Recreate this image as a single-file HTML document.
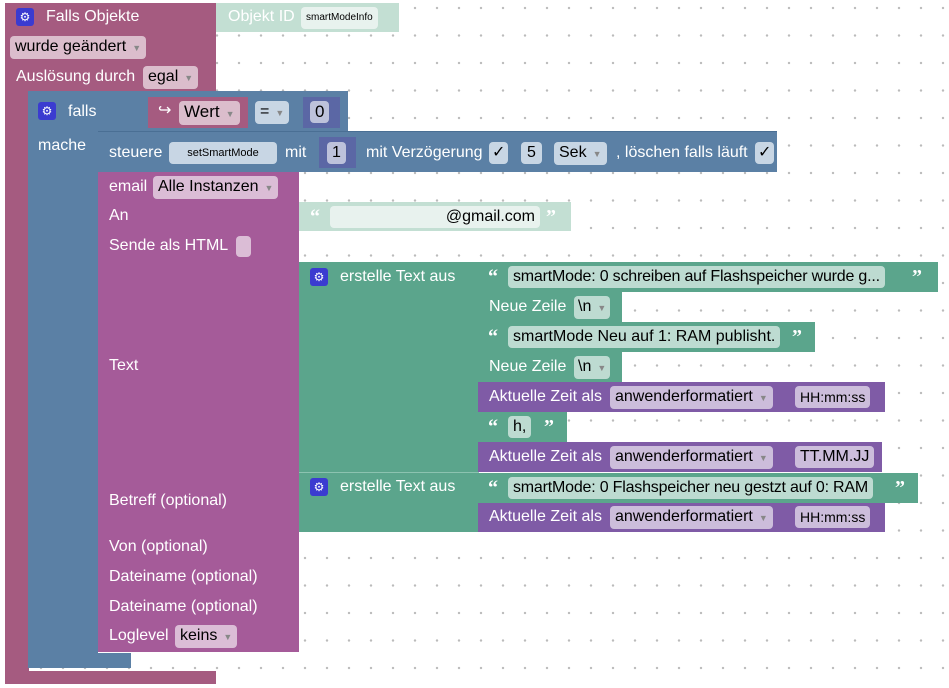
<!DOCTYPE html>
<html><head><meta charset="utf-8"><style>
body{margin:0;width:949px;height:688px;overflow:hidden;position:relative;font-family:"Liberation Sans",sans-serif;font-size:16px;
background-color:#fff;background-image:radial-gradient(circle at 19px 8px,#bbb 1px,transparent 1.4px);background-size:22px 27.5px;}
div{position:absolute;box-sizing:border-box}
.t{color:#fff;white-space:nowrap;line-height:22px}
.f{background:rgba(255,255,255,.6);border-radius:4px;color:#000;padding:0 5px;line-height:22px;white-space:nowrap}
.m{background:#a55b80}.b{background:#5b80a5}.e{background:#a55b99}.g{background:#5ba58c}.lg{background:#c3dfd3}.p{background:#7f5ba6}.n{background:#5b67a5}
.gear{width:18px;height:18px;background:#3b3bd0;border-radius:3px;color:#fff;font-size:12px;text-align:center;line-height:18px}
.ar{color:#888;font-size:9px;margin-left:6px}
.q{color:#fff;font-weight:bold;font-size:20px;line-height:22px;font-family:"Liberation Serif",serif}
</style></head><body>
<!-- outer mauve -->
<div class="m" style="left:5px;top:3px;width:211px;height:88px"></div>
<div class="m" style="left:5px;top:88px;width:24px;height:596px"></div>
<div class="m" style="left:5px;top:671px;width:211px;height:13px"></div>
<div class="gear" style="left:16px;top:8px">⚙</div>
<div class="t" style="left:46px;top:6px">Falls Objekte</div>
<div class="f" style="left:10px;top:36px">wurde geändert<span class="ar">▼</span></div>
<div class="t" style="left:16px;top:66px">Auslösung durch</div>
<div class="f" style="left:143px;top:66px">egal<span class="ar">▼</span></div>
<div class="lg" style="left:216px;top:3px;width:183px;height:29px"></div>
<div class="t" style="left:228px;top:6px">Objekt ID</div>
<div class="f" style="left:301px;top:7px;font-size:10px;background:#e8f2ee">smartModeInfo</div>
<!-- blue falls -->
<div class="b" style="left:28px;top:91px;width:320px;height:40px"></div>
<div class="b" style="left:28px;top:130px;width:70px;height:538px"></div>
<div class="b" style="left:28px;top:653px;width:103px;height:15px"></div>
<div class="gear" style="left:38px;top:102px">⚙</div>
<div class="t" style="left:68px;top:101px">falls</div>
<div class="t" style="left:38px;top:135px">mache</div>
<div class="m" style="left:148px;top:97px;width:100px;height:31px"></div>
<div class="t" style="left:158px;top:100px">↪</div>
<div class="f" style="left:179px;top:101px;font-size:17px">Wert<span class="ar">▼</span></div>
<div class="f" style="left:255px;top:101px;background:#c8d6e4">=<span class="ar">▼</span></div>
<div class="n" style="left:303px;top:97px;width:37px;height:31px"></div>
<div class="f" style="left:310px;top:101px;font-size:17px;padding:0 5px">0</div>
<!-- steuere -->
<div class="b" style="left:98px;top:131px;width:679px;height:41px;border-top:1px solid #4a6f94"></div>
<div class="t" style="left:109px;top:142px">steuere</div>
<div class="f" style="left:169px;top:142px;font-size:11px;background:#c8d6e4;width:108px;text-align:center">setSmartMode</div>
<div class="t" style="left:285px;top:142px">mit</div>
<div class="n" style="left:319px;top:137px;width:37px;height:31px"></div>
<div class="f" style="left:327px;top:142px;padding:0 5px">1</div>
<div class="t" style="left:366px;top:142px">mit Verzögerung</div>
<div class="f" style="left:489px;top:142px;padding:0 3px;background:#c8d6e4">✓</div>
<div class="f" style="left:521px;top:142px;background:#c8d6e4;padding:0 6px">5</div>
<div class="f" style="left:554px;top:142px;background:#c8d6e4">Sek<span class="ar">▼</span></div>
<div class="t" style="left:616px;top:142px">, löschen falls läuft</div>
<div class="f" style="left:755px;top:142px;padding:0 3px;background:#c8d6e4">✓</div>
<!-- email -->
<div class="e" style="left:98px;top:172px;width:201px;height:480px"></div>
<div class="t" style="left:109px;top:176px">email</div>
<div class="f" style="left:153px;top:176px">Alle Instanzen<span class="ar">▼</span></div>
<div class="t" style="left:109px;top:205px">An</div>
<div class="t" style="left:109px;top:235px">Sende als HTML</div>
<div class="f" style="left:236px;top:236px;width:15px;height:21px;padding:0"></div>
<div class="t" style="left:109px;top:355px">Text</div>
<div class="t" style="left:109px;top:490px">Betreff (optional)</div>
<div class="t" style="left:109px;top:536px">Von (optional)</div>
<div class="t" style="left:109px;top:566px">Dateiname (optional)</div>
<div class="t" style="left:109px;top:596px">Dateiname (optional)</div>
<div class="t" style="left:109px;top:625px">Loglevel</div>
<div class="f" style="left:175px;top:625px">keins<span class="ar">▼</span></div>
<!-- An -->
<div class="lg" style="left:299px;top:202px;width:272px;height:29px"></div>
<div class="q" style="left:310px;top:206px">“</div>
<div class="f" style="left:330px;top:206px;width:210px;text-align:right;background:#e8f2ee">@gmail.com</div>
<div class="q" style="left:546px;top:206px">”</div>
<!-- text joins -->
<div class="g" style="left:299px;top:262px;width:180px;height:270px"></div>
<div style="left:299px;top:472px;width:180px;height:1px;background:#8cc3b0"></div>
<div class="gear" style="left:310px;top:268px">⚙</div>
<div class="t" style="left:340px;top:266px">erstelle Text aus</div>
<div class="gear" style="left:310px;top:478px">⚙</div>
<div class="t" style="left:340px;top:476px">erstelle Text aus</div>

<div class="g" style="left:478px;top:262px;width:460px;height:30px"></div>
<div class="q" style="left:488px;top:266px">“</div>
<div class="f" style="left:508px;top:266px;letter-spacing:-0.2px">smartMode: 0 schreiben auf Flashspeicher wurde g...</div>
<div class="q" style="left:912px;top:266px">”</div>

<div class="g" style="left:478px;top:292px;width:144px;height:30px"></div>
<div class="t" style="left:489px;top:296px">Neue Zeile</div>
<div class="f" style="left:574px;top:296px;padding:0 4px">\n<span class="ar">▼</span></div>

<div class="g" style="left:478px;top:322px;width:337px;height:30px"></div>
<div class="q" style="left:488px;top:326px">“</div>
<div class="f" style="left:508px;top:326px">smartMode Neu auf 1: RAM publisht.</div>
<div class="q" style="left:792px;top:326px">”</div>

<div class="g" style="left:478px;top:352px;width:144px;height:30px"></div>
<div class="t" style="left:489px;top:356px">Neue Zeile</div>
<div class="f" style="left:574px;top:356px;padding:0 4px">\n<span class="ar">▼</span></div>

<div class="p" style="left:478px;top:382px;width:407px;height:30px"></div>
<div class="t" style="left:489px;top:386px">Aktuelle Zeit als</div>
<div class="f" style="left:610px;top:386px">anwenderformatiert<span class="ar">▼</span></div>
<div class="f" style="left:795px;top:386px;font-size:14px">HH:mm:ss</div>

<div class="g" style="left:478px;top:412px;width:89px;height:30px"></div>
<div class="q" style="left:488px;top:416px">“</div>
<div class="f" style="left:508px;top:416px">h,</div>
<div class="q" style="left:544px;top:416px">”</div>

<div class="p" style="left:478px;top:442px;width:404px;height:30px"></div>
<div class="t" style="left:489px;top:446px">Aktuelle Zeit als</div>
<div class="f" style="left:610px;top:446px">anwenderformatiert<span class="ar">▼</span></div>
<div class="f" style="left:795px;top:446px">TT.MM.JJ</div>

<div class="g" style="left:478px;top:473px;width:440px;height:30px"></div>
<div class="q" style="left:488px;top:477px">“</div>
<div class="f" style="left:508px;top:477px;letter-spacing:-0.2px">smartMode: 0 Flashspeicher neu gestzt auf 0: RAM</div>
<div class="q" style="left:895px;top:477px">”</div>

<div class="p" style="left:478px;top:503px;width:407px;height:29px"></div>
<div class="t" style="left:489px;top:506px">Aktuelle Zeit als</div>
<div class="f" style="left:610px;top:506px">anwenderformatiert<span class="ar">▼</span></div>
<div class="f" style="left:795px;top:506px;font-size:14px">HH:mm:ss</div>
</body></html>
